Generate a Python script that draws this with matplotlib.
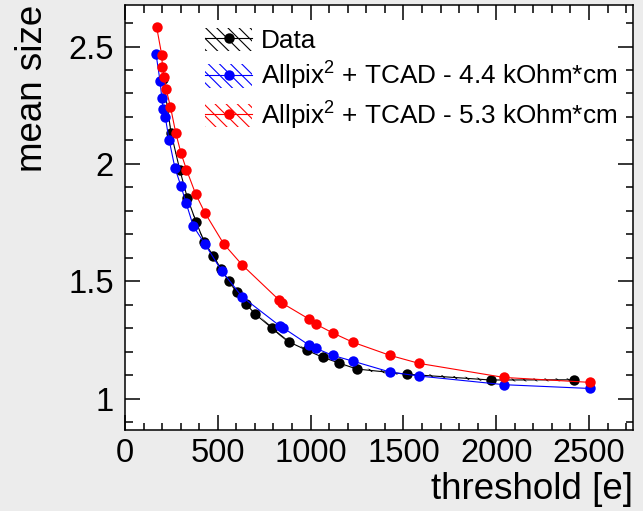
import numpy as np
import matplotlib.pyplot as plt
from matplotlib.patches import Patch
from matplotlib.lines import Line2D
from matplotlib.ticker import MultipleLocator

# measured data
data_thr = [206, 248, 295, 336, 383, 427, 476, 516, 560, 605, 650, 700,
            794, 885, 979, 1065, 1155, 1248, 1518, 1970, 2419]
data_size = [2.362, 2.133, 1.975, 1.855, 1.753, 1.667, 1.608, 1.552, 1.500, 1.452, 1.405, 1.361,
             1.299, 1.241, 1.206, 1.176, 1.151, 1.126, 1.104, 1.079, 1.080]
data_err = [0.006] * len(data_thr)

# simulation, 4.4 kOhm*cm
sim44_thr = [167, 189, 198, 206, 217, 238, 269, 302, 329, 368, 429, 521, 632,
             835, 853, 993, 1029, 1119, 1230, 1428, 1584, 2044, 2505]
sim44_size = [2.469, 2.352, 2.282, 2.232, 2.199, 2.101, 1.983, 1.904, 1.834, 1.735, 1.660, 1.544, 1.433,
              1.309, 1.301, 1.227, 1.214, 1.184, 1.159, 1.113, 1.096, 1.059, 1.043]

# simulation, 5.3 kOhm*cm
sim53_thr = [170, 198, 202, 212, 221, 245, 274, 302, 331, 381, 431, 532, 632,
             830, 846, 991, 1029, 1121, 1228, 1428, 1584, 2042, 2505]
sim53_size = [2.585, 2.464, 2.411, 2.369, 2.320, 2.243, 2.130, 2.045, 1.976, 1.871, 1.791, 1.659, 1.569,
              1.420, 1.407, 1.339, 1.317, 1.279, 1.240, 1.184, 1.150, 1.090, 1.069]

labels = ['Data',
          'Allpix$^{2}$ + TCAD - 4.4 kOhm*cm',
          'Allpix$^{2}$ + TCAD - 5.3 kOhm*cm']

plt.rcParams['font.family'] = ['Liberation Sans', 'DejaVu Sans']
plt.rcParams['mathtext.fontset'] = 'custom'
plt.rcParams['mathtext.rm'] = 'Liberation Sans'
plt.rcParams['mathtext.it'] = 'Liberation Sans:italic'
plt.rcParams['hatch.linewidth'] = 0.8

fig = plt.figure(figsize=(6.43, 5.11), dpi=100, facecolor='#ececec')
ax = fig.add_axes([0.1944, 0.1585, 0.79, 0.8317])
ax.set_facecolor('white')

# data with hatched band
d_x = np.array(data_thr)
d_y = np.array(data_size)
d_e = np.array(data_err)
ax.fill_between(d_x, d_y - d_e, d_y + d_e, facecolor='none', edgecolor='black',
                hatch='\\\\\\', linewidth=0)
ax.plot(d_x, d_y, '-o', color='black', lw=0.8, ms=7.5, mec='none')
ax.plot(sim44_thr, sim44_size, '-o', color='blue', lw=0.8, ms=7.5, mec='none')
ax.plot(sim53_thr, sim53_size, '-o', color='red', lw=0.8, ms=7.5, mec='none')

ax.set_xlim(0, 2737)
ax.set_ylim(0.866, 2.677)
ax.xaxis.set_major_locator(MultipleLocator(500))
ax.xaxis.set_minor_locator(MultipleLocator(100))
ax.yaxis.set_major_locator(MultipleLocator(0.5))
ax.yaxis.set_minor_locator(MultipleLocator(0.1))
ax.yaxis.set_major_formatter(plt.FuncFormatter(lambda v, p: '%g' % v))
ax.tick_params(which='both', direction='in', top=True, right=True, width=1.1, labelsize=23.5)
ax.tick_params(which='major', length=10.8)
ax.tick_params(which='minor', length=5.4)
ax.tick_params(axis='x', pad=6)
ax.tick_params(axis='y', pad=8)
for s in ax.spines.values():
    s.set_linewidth(1.1)

ax.set_xlabel('threshold [e]', fontsize=26.5, loc='right')
ax.xaxis.set_label_coords(1.0, -0.098)
ax.set_ylabel('mean size', fontsize=26.5, loc='top')
ax.yaxis.set_label_coords(-0.148, 1.0)

handles = []
for c in ['black', 'blue', 'red']:
    p = Patch(facecolor='none', edgecolor=c, hatch='\\\\\\', linewidth=0)
    l = Line2D([], [], color=c, marker='o', lw=0.8, ms=7.5, mec='none')
    handles.append((p, l))
ax.legend(handles, labels, loc='upper left', bbox_to_anchor=(0.158, 0.947), frameon=False,
          fontsize=18.8, handlelength=1.8, handleheight=1.0, handletextpad=0.33,
          labelspacing=0.27, borderaxespad=0, borderpad=0)

fig.savefig('out.png', dpi=100, facecolor=fig.get_facecolor())
